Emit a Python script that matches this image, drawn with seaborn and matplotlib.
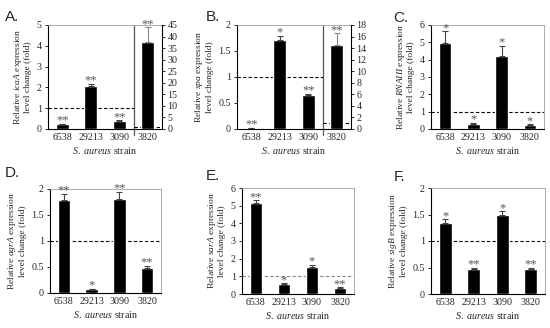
import numpy as np
import pandas as pd
import matplotlib
matplotlib.use("Agg")
import matplotlib.pyplot as plt
import matplotlib.transforms as mtransforms
from matplotlib.ticker import FuncFormatter
import seaborn as sns

sns.set_style("white")
plt.rcParams['font.family'] = ['Liberation Serif', 'DejaVu Serif']
plt.rcParams['mathtext.fontset'] = 'custom'
plt.rcParams['mathtext.rm'] = 'Liberation Serif'
plt.rcParams['mathtext.it'] = 'Liberation Serif:italic'

strains = ['6538', '29213', '3090', '3820']

# A. icaA (3820 on the right axis)
ica_vals = [0.24, 2.05, 0.40, 37.8]
ica_err = [0.02, 0.12, 0.03, 6.2]
ica_stars = ['**', '**', '**', '**']

# B. spa (3820 on the right axis)
spa_vals = [0.02, 1.71, 0.66, 14.6]
spa_err = [0.005, 0.08, 0.02, 2.0]
spa_stars = ['**', '*', '**', '**']

# C. RNAIII
rna_vals = [4.95, 0.29, 4.2, 0.25]
rna_err = [0.7, 0.08, 0.6, 0.03]
rna_stars = ['*', '*', '*', '*']

# D. agrA
agr_vals = [1.79, 0.07, 1.80, 0.48]
agr_err = [0.12, 0.01, 0.15, 0.04]
agr_stars = ['**', '*', '**', '**']

# E. sarA
sar_vals = [5.15, 0.58, 1.52, 0.36]
sar_err = [0.15, 0.03, 0.13, 0.02]
sar_stars = ['**', '*', '*', '**']

# F. sigB
sig_vals = [1.34, 0.47, 1.49, 0.47]
sig_err = [0.07, 0.03, 0.07, 0.03]
sig_stars = ['*', '**', '*', '**']

FS = 7.2
W, H = 550, 328


def fmt(v, pos):
    return '{:g}'.format(v)


def box(l, r, t, b):
    return [l / W, 1 - b / H, (r - l) / W, (b - t) / H]


def style_axis(ax, ylim, ystep):
    ax.set_xlim(-0.5, 3.5)
    ax.set_ylim(*ylim)
    ax.set_yticks(np.arange(ylim[0], ylim[1] + ystep / 2, ystep))
    ax.yaxis.set_major_formatter(FuncFormatter(fmt))
    ax.set_xticks(range(4))
    ax.set_xticklabels(strains)
    ax.set_xticks(np.arange(-0.5, 4, 1), minor=True)
    ax.tick_params(axis='x', which='major', length=0, pad=3, labelsize=FS)
    ax.tick_params(axis='x', which='minor', length=2.5, width=0.7, direction='out', color='black')
    ax.tick_params(axis='y', length=2.5, width=0.7, direction='out', labelsize=FS, pad=2, left=True)
    for s in ['left', 'bottom']:
        ax.spines[s].set_color('black')
        ax.spines[s].set_linewidth(0.8)
    for s in ['top', 'right']:
        ax.spines[s].set_color('#a0a0a0')
        ax.spines[s].set_linewidth(0.6)


def bars(ax, idx, vals, errs, stars, ecolor='#444444'):
    df = pd.DataFrame({'strain': [strains[i] for i in idx], 'value': [vals[i] for i in idx]})
    sns.barplot(data=df, x='strain', y='value', order=strains, color='black',
                width=0.45, ax=ax, saturation=1)
    ax.errorbar(idx, [vals[i] for i in idx],
                yerr=[[0] * len(idx), [errs[i] for i in idx]],
                fmt='none', ecolor=ecolor, elinewidth=0.8, capsize=2.5, capthick=0.8,
                clip_on=False)
    for i in idx:
        ax.annotate(stars[i], (i, vals[i] + errs[i]), xytext=(0, -2),
                    textcoords='offset points', ha='center', va='bottom',
                    fontsize=9, color='#555555', annotation_clip=False)


def labels(ax, gene):
    ax.set_ylabel('Relative $\\mathit{' + gene + '}$ expression\nlevel change (fold)',
                  fontsize=6.8, labelpad=3, linespacing=1.1)
    ax.set_xlabel('$\\mathit{S.\\ aureus}$ strain', fontsize=FS, labelpad=2)


def simple_panel(pos, vals, errs, stars, ylim, ystep, gene, dash_color='black'):
    ax = fig.add_axes(box(*pos))
    bars(ax, [0, 1, 2, 3], vals, errs, stars)
    ax.axhline(1, color=dash_color, lw=0.8, ls=(0, (3, 2)), zorder=0)
    style_axis(ax, ylim, ystep)
    labels(ax, gene)
    return ax


def split_panel(pos, vals, errs, stars, ylim, ystep, ylim2, ystep2, gene):
    ax = fig.add_axes(box(*pos))
    bars(ax, [0, 1, 2], vals, errs, stars)
    ax.plot([-0.5, 2.5], [1, 1], color='black', lw=0.8, ls=(0, (3, 2)), zorder=0)
    style_axis(ax, ylim, ystep)
    labels(ax, gene)
    ax2 = ax.twinx()
    bars(ax2, [3], vals, errs, stars, ecolor='#888888')
    ax2.plot([2.5, 3.5], [1, 1], color='black', lw=0.8, ls=(0, (3, 2)), zorder=0)
    ax2.set_xlim(-0.5, 3.5)
    ax2.set_ylim(*ylim2)
    ax2.set_yticks(np.arange(ylim2[0], ylim2[1] + ystep2 / 2, ystep2))
    ax2.yaxis.set_major_formatter(FuncFormatter(fmt))
    ax2.set_ylabel('')
    ax2.tick_params(axis='y', length=2.5, width=0.7, direction='out', labelsize=FS, pad=1.5, right=True)
    for s in ['left', 'bottom', 'top']:
        ax2.spines[s].set_visible(False)
    ax2.spines['right'].set_color('black')
    ax2.spines['right'].set_linewidth(0.8)
    trans = mtransforms.blended_transform_factory(ax.transData, ax.transAxes)
    ax.plot([2.5, 2.5], [-0.06, 1], transform=trans, color='#555555', lw=0.9, clip_on=False)
    return ax


fig = plt.figure(figsize=(5.5, 3.28), dpi=100)

split_panel((48, 162, 25, 129), ica_vals, ica_err, ica_stars, (0, 5), 1, (0, 45), 5, 'icaA')
split_panel((237, 351, 25, 129), spa_vals, spa_err, spa_stars, (0, 2), 0.5, (0, 18), 2, 'spa')
simple_panel((431, 544, 25, 129), rna_vals, rna_err, rna_stars, (0, 6), 1, 'RNAIII')
simple_panel((50, 161, 189, 293), agr_vals, agr_err, agr_stars, (0, 2), 0.5, 'agrA')
simple_panel((242, 354, 188, 294), sar_vals, sar_err, sar_stars, (0, 6), 1, 'sarA', dash_color='#888888')
simple_panel((431, 545, 188, 294), sig_vals, sig_err, sig_stars, (0, 2), 0.5, 'sigB')

letters = [('A.', 5, 21), ('B.', 206, 21), ('C.', 393, 22),
           ('D.', 5, 177), ('E.', 206, 180), ('F.', 394, 181)]
for txt, x, y in letters:
    fig.text(x / W, 1 - y / H, txt, fontsize=11, family='Liberation Sans', va='baseline')

fig.savefig('out.png', dpi=100)
